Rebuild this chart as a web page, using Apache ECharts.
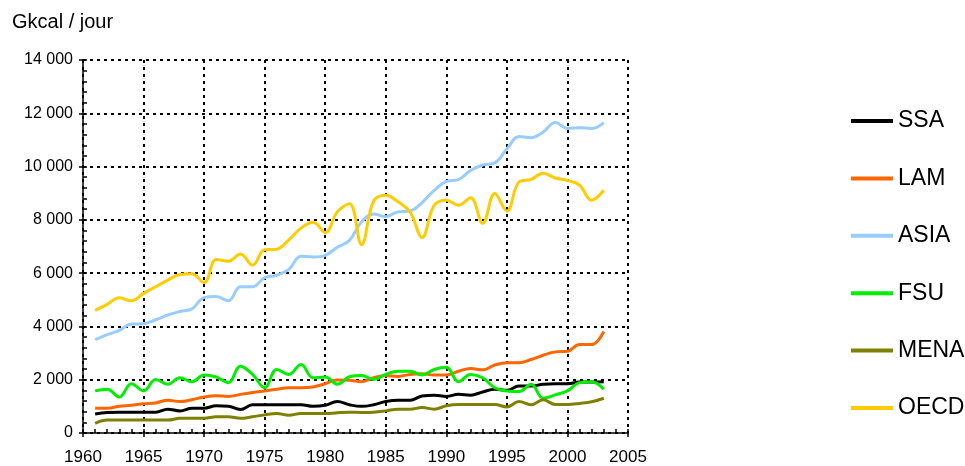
<!DOCTYPE html>
<html>
<head>
<meta charset="utf-8">
<script src="https://cdn.jsdelivr.net/npm/echarts@6/dist/echarts.min.js"></script>
<style>
  html, body { margin: 0; padding: 0; background: #fff; }
  #chart { width: 965px; height: 466px; }
</style>
</head>
<body>
<div id="chart"></div>
<script>
(function(){

    // annees 1961 -> 2003
    var years = [];
    for (var y = 1961; y <= 2003; y++) { years.push(y); }

    var names = ['SSA', 'LAM', 'ASIA', 'FSU', 'MENA', 'OECD'];
    var colors = ['#000000', '#ff6600', '#99ccff', '#00ee00', '#808000', '#ffcc00'];

    // valeurs (Gkcal / jour)
    var SSA = [710, 770, 780, 780, 780, 780, 895, 830, 930, 930,
               1020, 1005, 880, 1060, 1060, 1060, 1060, 1060, 1000, 1040,
               1180, 1060, 1000, 1060, 1180, 1230, 1230, 1390, 1420, 1370,
               1450, 1420, 1540, 1640, 1600, 1765, 1765, 1830, 1850, 1850,
               1910, 1910, 1925];
    var LAM = [930, 930, 1000, 1040, 1100, 1130, 1230, 1180, 1250, 1355,
               1400, 1370, 1450, 1520, 1580, 1640, 1700, 1700, 1730, 1850,
               1990, 1980, 1925, 2075, 2160, 2125, 2200, 2225, 2175, 2175,
               2320, 2420, 2370, 2550, 2640, 2640, 2760, 2920, 3045, 3070,
               3320, 3320, 3810];
    var ASIA = [3500, 3690, 3850, 4090, 4100, 4250, 4430, 4560, 4660, 5080,
                5120, 4960, 5490, 5490, 5830, 5920, 6140, 6630, 6610, 6670,
                6970, 7230, 7930, 8220, 8120, 8300, 8330, 8650, 9110, 9440,
                9510, 9850, 10060, 10140, 10660, 11130, 11080, 11300, 11650, 11430,
                11460, 11430, 11650];
    var FSU = [1580, 1640, 1355, 1850, 1580, 2010, 1830, 2075, 1925, 2175,
               2100, 1890, 2510, 2200, 1700, 2385, 2200, 2570, 2075, 2100,
               1830, 2110, 2160, 2010, 2200, 2320, 2320, 2175, 2385, 2470,
               1925, 2200, 2075, 1700, 1580, 1555, 1830, 1305, 1430, 1580,
               1890, 1925, 1640];
    var MENA = [360, 485, 485, 485, 485, 485, 485, 550, 550, 550,
                610, 610, 550, 610, 680, 730, 670, 730, 730, 730,
                760, 780, 770, 780, 830, 895, 895, 955, 895, 1020,
                1070, 1070, 1070, 1070, 980, 1180, 1060, 1245, 1070, 1070,
                1110, 1170, 1305];
    var OECD = [4600, 4830, 5080, 4960, 5240, 5490, 5740, 5950, 5980, 5640,
                6510, 6450, 6720, 6300, 6880, 6900, 7250, 7690, 7910, 7525,
                8300, 8600, 7070, 8700, 8920, 8680, 8300, 7340, 8550, 8740,
                8550, 8830, 7870, 8990, 8330, 9420, 9520, 9750, 9570, 9480,
                9300, 8740, 9110];

    var values = [SSA, LAM, ASIA, FSU, MENA, OECD];

    // format "14 000"
    var fmt = function (v) {
        return String(v).replace(/\B(?=(\d{3})+(?!\d))/g, ' ');
    };

    var dotted = { color: '#000', width: 2, type: [3, 4] };
    var font = '"Liberation Sans", Arial, Helvetica, sans-serif';

    var series = names.map(function (name, i) {
        return {
            name: name,
            type: 'line',
            xAxisIndex: 0,
            yAxisIndex: 0,
            smooth: 0.4,
            symbol: 'none',
            color: colors[i],
            lineStyle: { width: 3, color: colors[i] },
            data: years.map(function (yr, k) { return [yr, values[i][k]]; })
        };
    });

    var option = {
        backgroundColor: '#fff',
        animation: false,
        title: {
            text: 'Gkcal / jour',
            left: 7,
            top: 7,
            textStyle: { fontFamily: font, fontSize: 20, fontWeight: 'normal', color: '#000' }
        },
        legend: {
            orient: 'vertical',
            left: 846,
            top: 104,
            itemWidth: 42,
            itemHeight: 4,
            itemGap: 33.4,
            icon: 'rect',
            data: names,
            textStyle: { fontFamily: font, fontSize: 23, lineHeight: 24, color: '#000' }
        },
        grid: { left: 83, top: 60, width: 545, height: 376, containLabel: false },
        xAxis: [{
            type: 'value',
            min: 1960, max: 2005, interval: 5,
            axisLine: { show: true, onZero: false, lineStyle: { color: '#000', width: 1.5 } },
            axisTick: { show: true, inside: true, length: 4, lineStyle: { color: '#000', width: 1.5 } },
            minorTick: { show: true, splitNumber: 5, length: 4, lineStyle: { color: '#000', width: 1.5 } },
            axisLabel: { fontFamily: font, fontSize: 17, color: '#000', margin: 16, formatter: function (v) { return String(v); } },
            splitLine: { show: true, lineStyle: dotted }
        }, {
            type: 'value',
            min: 1960, max: 2005, interval: 5,
            position: 'bottom',
            axisLine: { show: false },
            axisTick: { show: true, inside: false, length: 4, lineStyle: { color: '#000', width: 1.5 } },
            axisLabel: { show: false },
            splitLine: { show: false }
        }],
        yAxis: [{
            type: 'value',
            min: 0, max: 14000, interval: 2000,
            axisLine: { show: true, onZero: false, lineStyle: { color: '#000', width: 1.5 } },
            axisTick: { show: true, inside: true, length: 4, lineStyle: { color: '#000', width: 1.5 } },
            minorTick: { show: true, splitNumber: 5, length: 4, lineStyle: { color: '#000', width: 1.5 } },
            axisLabel: { fontFamily: font, fontSize: 16, color: '#000', margin: 10, formatter: fmt },
            splitLine: { show: true, lineStyle: dotted }
        }, {
            type: 'value',
            min: 0, max: 14000, interval: 2000,
            position: 'left',
            axisLine: { show: false },
            axisTick: { show: true, inside: false, length: 4, lineStyle: { color: '#000', width: 1.5 } },
            axisLabel: { show: false },
            splitLine: { show: false }
        }],
        series: series
    };

    echarts.init(document.getElementById('chart'), null, { renderer: 'canvas' }).setOption(option);

})();
</script>
</body>
</html>
